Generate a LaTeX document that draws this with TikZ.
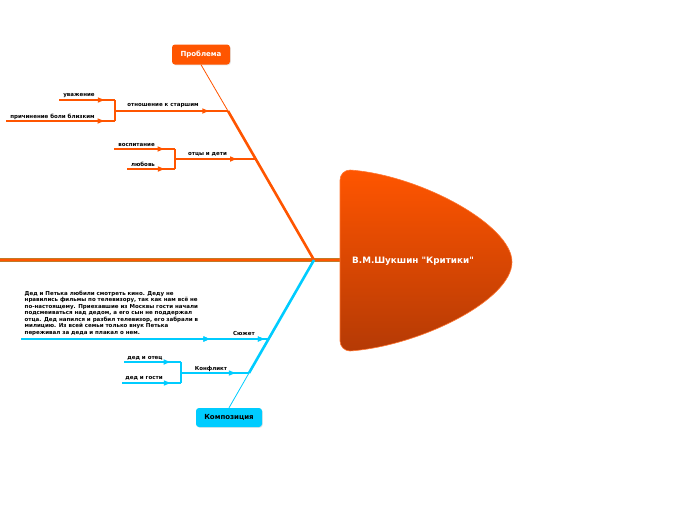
\documentclass[tikz,border=0pt]{standalone}
\usepackage{fontspec}
\setmainfont{DejaVu Sans}[Ligatures=TeXOff]
\usetikzlibrary{arrows.meta,decorations.markings,shadows}
\definecolor{org}{HTML}{FF5500}
\definecolor{orgdark}{HTML}{B53A05}
\definecolor{cyn}{HTML}{00CCFF}
\definecolor{spineout}{HTML}{C07A28}
\begin{document}
\begin{tikzpicture}[x=1pt,y=-1pt,
  every node/.style={font=\bfseries\fontsize{5.5}{6.5}\selectfont, inner sep=0pt},
  lbl/.style={text=black, yshift=-1.5pt},
  arr/.style={postaction={decorate}, decoration={markings, mark=at position #1 with {\arrow{Triangle[length=6.5pt,width=5pt]}}}},
  osub/.style={draw=org, line width=1.5pt},
  csub/.style={draw=cyn, line width=1.5pt},
  topic/.style={rounded corners=3pt, minimum height=20pt, font=\bfseries\fontsize{7}{8}\selectfont, drop shadow={opacity=0.2, shadow xshift=0.8pt, shadow yshift=-0.8pt}}
]
\useasboundingbox (0,0) rectangle (696,520);
% spine
\coordinate (S0) at (0,260);
\coordinate (S1) at (340,260);
\coordinate (J) at (314,260);
\draw[spineout, line width=4.5pt] (S0) -- (S1);
\draw[org, line width=2.8pt] (S0) -- (S1);
% head
\shade[top color=org, bottom color=orgdark, draw=org!80!white, line width=0.6pt]
  (350,170) .. controls (420,175) and (512,225) .. (512,262)
  .. controls (512,300) and (420,346) .. (350,351)
  .. controls (344.5,351) and (340,346.5) .. (340,341)
  -- (340,180) .. controls (340,174.5) and (344.5,170) .. (350,170) -- cycle;
\node[text=white, font=\bfseries\fontsize{8.8}{9}\selectfont, anchor=west] (head) at (352,261) {В.М.Шукшин "Критики"};

% ---------- orange bone ----------
\node[topic, fill=org, text=white, minimum width=58pt] (P) at (201,54.5) {Проблема};
\coordinate (B1) at (228,111);
\coordinate (B2) at (256,159);
\draw[org, line width=2.6pt] (J) -- (B1);
\draw[org, line width=0.8pt] (B1) -- (P.south);

% отношение к старшим
\coordinate (K1) at (115,111);
\coordinate (K1t) at (115,100);
\coordinate (K1b) at (115,121);
\coordinate (u0) at (59,100);
\coordinate (p0) at (6,121);
\draw[osub, arr=0.83] (K1) -- (B1);
\draw[osub] (K1t) -- (K1b);
\draw[osub, arr=0.81] (u0) -- (K1t);
\draw[osub, arr=0.9] (p0) -- (K1b);
\node[lbl] (t1) at (163,104) {отношение к старшим};
\node[lbl] (t2) at (79,94) {уважение};
\node[lbl] (t3) at (52.5,115) {причинение боли близким};

% отцы и дети
\coordinate (K2) at (175,159);
\coordinate (K2t) at (175,149);
\coordinate (K2b) at (175,169);
\coordinate (v0) at (114,149);
\coordinate (l0) at (127,169);
\draw[osub, arr=0.76] (K2) -- (B2);
\draw[osub] (K2t) -- (K2b);
\draw[osub, arr=0.82] (v0) -- (K2t);
\draw[osub, arr=0.78] (l0) -- (K2b);
\node[lbl] (t4) at (207.5,153) {отцы и дети};
\node[lbl] (t5) at (136.5,143) {воспитание};
\node[lbl] (t6) at (143,163) {любовь};

% ---------- cyan bone ----------
\node[topic, fill=cyn, text=black, minimum width=66pt, minimum height=19pt] (C) at (229,417.5) {Композиция};
\coordinate (D1) at (268,339);
\coordinate (D2) at (249,373);
\draw[cyn, line width=2.6pt] (J) -- (D2);
\draw[cyn, line width=0.8pt] (D2) -- (C.north);

% Сюжет
\coordinate (z0) at (21,339);
\draw[csub, arr=0.765, arr=0.985] (z0) -- (D1);
\node[lbl] (t7) at (244,332) {Сюжет};
\node[text=black, anchor=north west, align=left] (t8) at (24.5,290.5) {Дед и Петька любили смотреть кино. Деду не\\
нравились фильмы по телевизору, так как нам всё не\\
по-настоящему. Приехавшие из Москвы гости начали\\
подсмеиваться над дедом, а его сын не поддержал\\
отца. Дед напился и разбил телевизор, его забрали в\\
милицию. Из всей семьи только внук Петька\\
переживал за деда и плакал о нем.};

% Конфликт
\coordinate (K3) at (181,373);
\coordinate (K3t) at (181,362);
\coordinate (K3b) at (181,383);
\coordinate (o0) at (124,362);
\coordinate (g0) at (122,383);
\draw[csub, arr=0.8] (K3) -- (D2);
\draw[csub] (K3t) -- (K3b);
\draw[csub, arr=0.81] (o0) -- (K3t);
\draw[csub, arr=0.82] (g0) -- (K3b);
\node[lbl] (t9) at (211,367) {Конфликт};
\node[lbl] (t10) at (145,357) {дед и отец};
\node[lbl] (t11) at (144,377) {дед и гости};
\end{tikzpicture}
\end{document}
